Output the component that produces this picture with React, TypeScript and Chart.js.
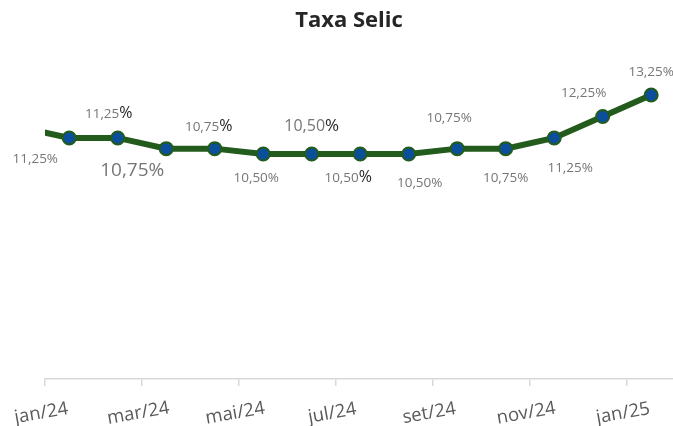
import { useEffect, useRef } from 'react';
import { Chart, registerables } from 'chart.js';

Chart.register(...registerables);

// Monthly Selic rate (dez/23 sits just outside the plotted range, its segment is clipped)
const months = ['dez/23', 'jan/24', 'fev/24', 'mar/24', 'abr/24', 'mai/24', 'jun/24', 'jul/24', 'ago/24', 'set/24', 'out/24', 'nov/24', 'dez/24', 'jan/25'];
const selic = [11.75, 11.25, 11.25, 10.75, 10.75, 10.5, 10.5, 10.5, 10.5, 10.75, 10.75, 11.25, 12.25, 13.25];

// Axis tick labels (every two months, counted from jan/24)
const tickLabels = ['jan/24', 'mar/24', 'mai/24', 'jul/24', 'set/24', 'nov/24', 'jan/25'];
const tickMonths = [0, 2, 4, 6, 8, 10, 12];

const chartTitle = 'Taxa Selic';

// Data-label placement (offset from the point, in px) and look
type LabelStyle = { dx: number; dy: number; size: number; darkPct?: boolean; pctSize?: number } | null;
const labelLayout: LabelStyle[] = [
  null,
  { dx: -34, dy: 20, size: 13.5 },
  { dx: -9, dy: -25, size: 13.5, darkPct: true, pctSize: 16 },
  { dx: -34, dy: 21, size: 19 },
  { dx: -6, dy: -22, size: 13.5, darkPct: true, pctSize: 16 },
  { dx: -7, dy: 23, size: 13.5 },
  { dx: 0, dy: -29, size: 16, darkPct: true, pctSize: 17 },
  { dx: -12, dy: 23, size: 13.5, darkPct: true, pctSize: 16 },
  { dx: 11, dy: 28, size: 13.5 },
  { dx: -8, dy: -31, size: 13.5 },
  { dx: 0, dy: 29, size: 13.5 },
  { dx: 16, dy: 29, size: 13.5 },
  { dx: -19, dy: -24, size: 13.5 },
  { dx: 0, dy: -24, size: 13.5 },
];

const FONT = '"Open Sans", "Noto Sans", sans-serif';
const LINE_GREEN = '#235b1c';
const MARKER_BLUE = '#0b4f9c';
const LABEL_GRAY = '#767676';
const DARK = '#262626';
const AXIS_TEXT = '#595959';

const fmt = (v: number) => v.toFixed(2).replace('.', ',');

const overlayPlugin = {
  id: 'overlay',
  afterDraw(chart: any) {
    const ctx: CanvasRenderingContext2D = chart.ctx;
    const meta = chart.getDatasetMeta(0);
    const xScale = chart.scales.x;
    ctx.save();

    // Title
    ctx.font = `bold 22px ${FONT}`;
    ctx.fillStyle = DARK;
    ctx.textAlign = 'center';
    ctx.textBaseline = 'alphabetic';
    ctx.fillText(chartTitle, 349, 27);

    // Data labels
    meta.data.forEach((pt: any, i: number) => {
      const st = labelLayout[i];
      if (!st) return;
      const num = fmt(selic[i]);
      const pctSize = st.darkPct ? (st.pctSize ?? st.size) : st.size;
      ctx.font = `${st.size}px ${FONT}`;
      const wNum = ctx.measureText(num).width;
      ctx.font = `${pctSize}px ${FONT}`;
      const wPct = ctx.measureText('%').width;
      const cx = pt.x + st.dx;
      const cy = pt.y + st.dy;
      const base = cy + st.size * 0.357;
      const x0 = cx - (wNum + wPct) / 2;
      ctx.textAlign = 'left';
      ctx.textBaseline = 'alphabetic';
      ctx.font = `${st.size}px ${FONT}`;
      ctx.fillStyle = LABEL_GRAY;
      ctx.fillText(num, x0, base);
      ctx.font = `${pctSize}px ${FONT}`;
      ctx.fillStyle = st.darkPct ? DARK : LABEL_GRAY;
      ctx.fillText('%', x0 + wNum, base);
    });

    // X-axis labels (slightly rotated)
    ctx.font = `18.5px ${FONT}`;
    ctx.fillStyle = AXIS_TEXT;
    ctx.textAlign = 'center';
    ctx.textBaseline = 'alphabetic';
    tickMonths.forEach((m, i) => {
      const x = xScale.getPixelForValue(m) - 4;
      const y = 412;
      ctx.save();
      ctx.translate(x, y);
      ctx.rotate((-10 * Math.PI) / 180);
      ctx.fillText(tickLabels[i], 0, 18.5 * 0.357);
      ctx.restore();
    });

    ctx.restore();
  },
};

export default function App() {
  const ref = useRef<HTMLCanvasElement | null>(null);

  useEffect(() => {
    if (!ref.current) return;
    const points = selic.map((v, i) => ({ x: i - 0.5, y: v }));
    const chart = new Chart(ref.current, {
      type: 'line',
      data: {
        labels: months,
        datasets: [
          {
            label: chartTitle,
            data: points,
            borderColor: LINE_GREEN,
            borderWidth: 6,
            backgroundColor: MARKER_BLUE,
            pointBackgroundColor: MARKER_BLUE,
            pointBorderColor: LINE_GREEN,
            pointBorderWidth: 2,
            pointRadius: (c: any) => (c.dataIndex === 0 ? 0 : 6.5),
            pointHoverRadius: 6.5,
            tension: 0,
            clip: { left: 0, top: false, right: false, bottom: false } as any,
          },
        ],
      },
      options: {
        responsive: false,
        animation: false,
        events: [],
        layout: { autoPadding: false, padding: { left: 45, right: 0, top: 79, bottom: 40 } },
        plugins: {
          legend: { display: false },
          title: { display: false },
          tooltip: { enabled: false },
        },
        scales: {
          x: {
            type: 'linear',
            min: 0,
            max: 12.95,
            afterBuildTicks: (scale: any) => {
              scale.ticks = tickMonths.map((v) => ({ value: v }));
            },
            ticks: { display: false },
            grid: {
              display: true,
              drawOnChartArea: false,
              drawTicks: true,
              tickLength: 7,
              color: '#d9d9d9',
              lineWidth: 1.5,
            },
            border: { display: true, color: '#d9d9d9', width: 1.5 },
          },
          y: {
            display: false,
            min: 0,
            max: 14,
          },
        },
      },
      plugins: [overlayPlugin],
    });
    return () => chart.destroy();
  }, []);

  return (
    <div style={{ position: 'fixed', left: 0, top: 0, width: 673, height: 426, background: '#fff' }}>
      <canvas ref={ref} width={673} height={426} style={{ width: 673, height: 426, display: 'block' }} />
    </div>
  );
}
